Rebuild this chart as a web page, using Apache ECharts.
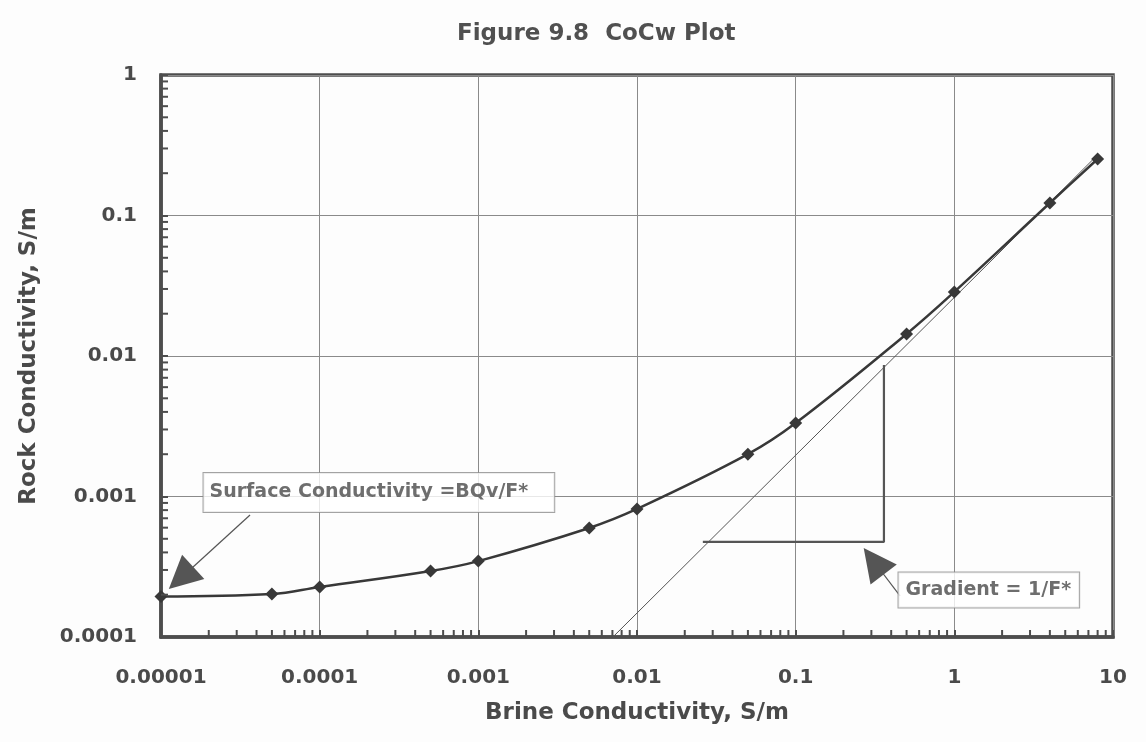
<!DOCTYPE html>
<html><head><meta charset="utf-8">
<script src="https://cdn.jsdelivr.net/npm/echarts@6/dist/echarts.min.js"></script>
<style>html,body{margin:0;padding:0;background:#fdfdfd}#c{width:1146px;height:742px}</style>
</head><body><div id="c"></div>
<script>
// ---- data ----
const brineCond = [0.00001, 0.00005, 0.0001, 0.0005, 0.001, 0.005, 0.01, 0.05, 0.1, 0.5, 1, 4, 8];
const rockCond  = [0.000194, 0.000202, 0.000227, 0.000295, 0.000347, 0.000597, 0.000815, 0.00200, 0.00333, 0.01436, 0.0286, 0.1227, 0.2524];

const asymptoteX = [0.00705, 8];
const asymptoteY = [0.0001, 0.27];

const slopeTriX = [0.026, 0.36, 0.36];
const slopeTriY = [0.000475, 0.000475, 0.00863];

const xTickLabels = ['0.00001', '0.0001', '0.001', '0.01', '0.1', '1', '10'];
const yTickLabels = ['0.0001', '0.001', '0.01', '0.1', '1'];

const noteText = ['Surface Conductivity =BQv/F*', 'Gradient = 1/F*'];
const noteX = [1.84e-5, 0.4416];
const noteY = [1.067e-3, 2.16e-4];

const arrowFromX = [3.64e-5, 0.4546];
const arrowFromY = [7.38e-4, 1.96e-4];
const arrowToX = [1.337e-5, 0.3102];
const arrowToY = [2.63e-4, 3.46e-4];

const X_MIN = 0.00001, X_MAX = 10, Y_MIN = 0.0001, Y_MAX = 1;

// minor tick positions (2..9 within each decade)
const xMinor = [], yMinor = [];
for (let e = -5; e < 1; e++) for (let m = 2; m <= 9; m++) xMinor.push([m * Math.pow(10, e), Y_MIN]);
for (let e = -4; e < 0; e++) for (let m = 2; m <= 9; m++) yMinor.push([X_MIN, m * Math.pow(10, e)]);

const FONT = 'DejaVu Sans';
const TXT = '#4a4a4a';
const AX = '#4d4d4d';

const chart = echarts.init(document.getElementById('c'), null, {renderer: 'canvas'});

function minorRender(dir) {
  return function (params, api) {
    const p = api.coord([api.value(0), api.value(1)]);
    const L = 7;
    const shape = dir === 'x' ? {x1: p[0], y1: p[1], x2: p[0], y2: p[1] - L}
                              : {x1: p[0], y1: p[1], x2: p[0] + L, y2: p[1]};
    return {type: 'line', shape: shape, style: {stroke: AX, lineWidth: 2}};
  };
}

const option = {
  backgroundColor: '#fdfdfd',
  animation: false,
  title: {
    text: 'Figure 9.8  CoCw Plot',
    left: 452, top: 18,
    textStyle: {fontFamily: FONT, fontSize: 23, fontWeight: 'bold', color: '#505050'}
  },
  grid: {
    left: 161, right: 33, top: 75, bottom: 105,
    show: true, borderColor: AX, borderWidth: 3.5, backgroundColor: 'transparent'
  },
  xAxis: {
    type: 'log', logBase: 10, min: X_MIN, max: X_MAX, splitNumber: 6,
    name: 'Brine Conductivity, S/m', nameLocation: 'middle', nameGap: 65,
    nameTextStyle: {fontFamily: FONT, fontSize: 23, fontWeight: 'bold', color: TXT},
    axisLine: {show: true, lineStyle: {color: AX, width: 3.5}},
    axisTick: {show: true, inside: true, length: 7, lineStyle: {color: AX, width: 2}},
    axisLabel: {
      margin: 31, fontFamily: FONT, fontSize: 20, fontWeight: 'bold', color: TXT,
      formatter: v => xTickLabels[Math.round(Math.log10(v)) + 5] || ''
    },
    splitLine: {show: true, lineStyle: {color: '#8a8a8a', width: 1}}
  },
  yAxis: {
    type: 'log', logBase: 10, min: Y_MIN, max: Y_MAX, splitNumber: 4,
    name: 'Rock Conductivity, S/m', nameLocation: 'middle', nameGap: 120,
    nameTextStyle: {fontFamily: FONT, fontSize: 23, fontWeight: 'bold', color: TXT},
    axisLine: {show: true, lineStyle: {color: AX, width: 3.5}},
    axisTick: {show: true, inside: true, length: 7, lineStyle: {color: AX, width: 2}},
    axisLabel: {
      margin: 24, fontFamily: FONT, fontSize: 20, fontWeight: 'bold', color: TXT,
      formatter: v => yTickLabels[Math.round(Math.log10(v)) + 4] || ''
    },
    splitLine: {show: true, lineStyle: {color: '#8a8a8a', width: 1}}
  },
  series: [
    {
      type: 'custom', silent: true, clip: false, z: 5,
      renderItem: minorRender('x'), data: xMinor
    },
    {
      type: 'custom', silent: true, clip: false, z: 5,
      renderItem: minorRender('y'), data: yMinor
    },
    {
      name: 'asymptote', type: 'line', silent: true, symbol: 'none', z: 2,
      data: asymptoteX.map((x, i) => [x, asymptoteY[i]]),
      lineStyle: {color: '#555', width: 1}
    },
    {
      name: 'slope', type: 'line', silent: true, symbol: 'none', z: 2,
      data: slopeTriX.map((x, i) => [x, slopeTriY[i]]),
      lineStyle: {color: '#555', width: 2.2}
    },
    {
      name: 'CoCw', type: 'line', silent: true, smooth: 0.4, z: 4,
      data: brineCond.map((x, i) => [x, rockCond[i]]),
      symbol: 'diamond', symbolSize: 13,
      itemStyle: {color: '#383838'},
      lineStyle: {color: '#383838', width: 2.5}
    },
    {
      name: 'arrows', type: 'line', silent: true, data: [], z: 6,
      markLine: {
        silent: true, animation: false,
        symbol: ['none', 'triangle'],
        label: {show: false},
        lineStyle: {color: '#555', width: 1.2, type: 'solid'},
        emphasis: {disabled: true},
        data: arrowFromX.map((x, i) => [
          {coord: [x, arrowFromY[i]], symbol: 'none'},
          {coord: [arrowToX[i], arrowToY[i]], symbol: 'triangle', symbolSize: 33,
           itemStyle: {color: '#3a3a3a'}}
        ])
      }
    },
    {
      name: 'notes', type: 'scatter', silent: true, z: 8,
      symbolSize: 1, itemStyle: {color: 'rgba(0,0,0,0)'},
      data: noteX.map((x, i) => ({
        value: [x, noteY[i]],
        label: {
          show: true, position: 'right', distance: 0,
          formatter: noteText[i],
          fontFamily: FONT, fontSize: 19, fontWeight: 'bold', color: TXT,
          backgroundColor: '#ffffff', borderColor: '#8c8c8c', borderWidth: 1,
          padding: i === 0 ? [10, 26, 10, 6] : [8, 8, 8, 7]
        }
      }))
    }
  ]
};
chart.setOption(option);
</script>
</body></html>
